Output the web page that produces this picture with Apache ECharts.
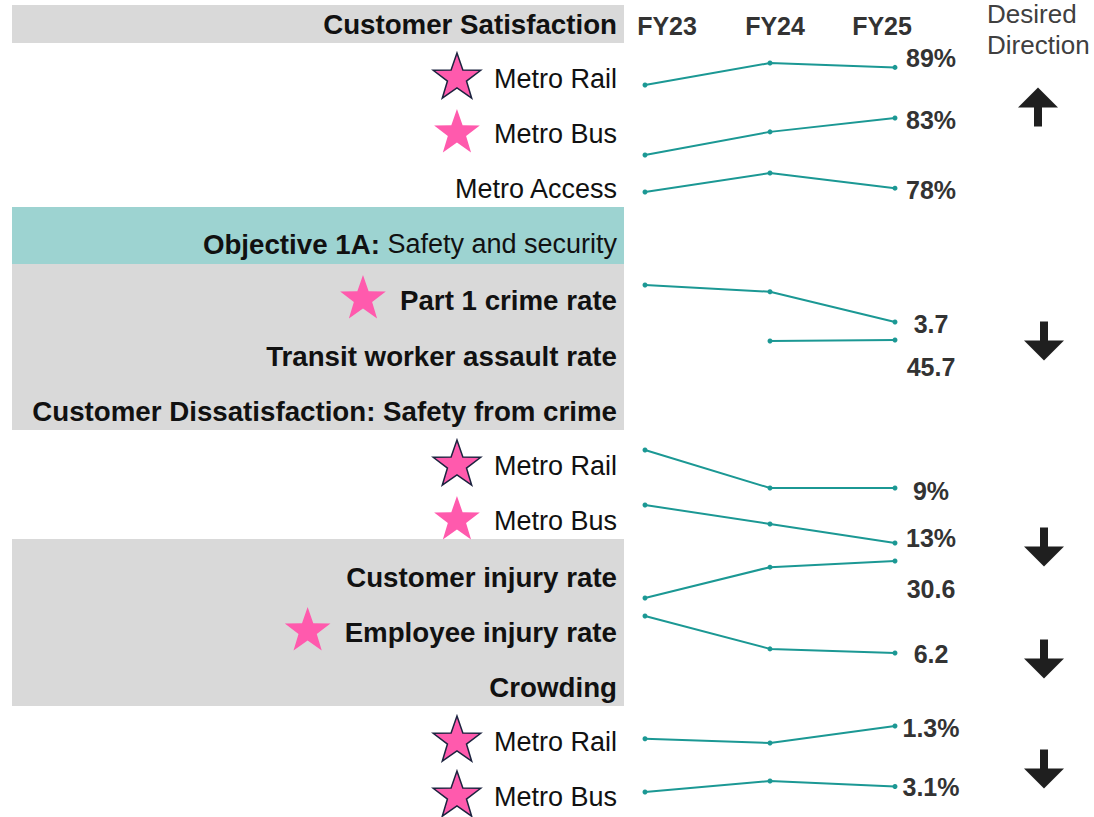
<!DOCTYPE html>
<html><head><meta charset="utf-8">
<script src="https://cdn.jsdelivr.net/npm/echarts@6/dist/echarts.min.js"></script>
<style>html,body{margin:0;padding:0;background:#fff;}#c{width:1094px;height:817px;}</style>
</head><body><div id="c"></div>
<script>
// ---------- DATA ----------
const years = ['FY23', 'FY24', 'FY25'];
const rowLabels = [
  'Customer Satisfaction', 'Metro Rail', 'Metro Bus', 'Metro Access',
  'Objective 1A:|Safety and security',
  'Part 1 crime rate', 'Transit worker assault rate',
  'Customer Dissatisfaction: Safety from crime', 'Metro Rail', 'Metro Bus',
  'Customer injury rate', 'Employee injury rate', 'Crowding', 'Metro Rail', 'Metro Bus'
];
const rowBold = [1, 0, 0, 0, 2, 1, 1, 1, 0, 0, 1, 1, 1, 0, 0];
const rowStar = ['', 'outline', 'plain', '', '', 'plain', '', '', 'outline', 'plain', '', 'plain', '', 'outline', 'outline'];

const csRail = [85, 90, 89];
const csBus = [75, 80, 83];
const csAccess = [77, 82, 78];
const part1Crime = [4.8, 4.6, 3.7];
const workerAssault = [null, 45.6, 45.7];
const dissatRail = [12, 9, 9];
const dissatBus = [17, 15, 13];
const customerInjury = [24.0, 29.5, 30.6];
const employeeInjury = [8.0, 6.4, 6.2];
const crowdRail = [1.0, 0.9, 1.3];
const crowdBus = [2.8, 3.4, 3.1];
const seriesList = [csRail, csBus, csAccess, part1Crime, workerAssault, dissatRail, dissatBus, customerInjury, employeeInjury, crowdRail, crowdBus];
const units = ['%', '%', '%', '', '', '%', '%', '', '', '%', '%'];
const desiredDirection = ['up', 'down', 'down', 'down', 'down'];
const directionTitle = ['Desired', 'Direction'];

// ---------- LAYOUT ----------
const FONT = "'Liberation Sans', Arial, sans-serif";
const REG = 27, BOLD = 27.7;
const rowY = [24, 79, 134, 189, 244, 300, 356, 411, 466, 521, 577, 632, 687, 742, 797];
const textRight = 617;
const bands = [
  { y: 5, h: 38, c: '#d9d9d9' },
  { y: 207, h: 57, c: '#9dd3d1' },
  { y: 264, h: 166, c: '#d9d9d9' },
  { y: 539, h: 167, c: '#d9d9d9' }
];
const sparkLeft = 645, sparkWidth = 250;
const sparkTop = [63, 118, 173, 285, 330, 450, 505, 561, 616, 726, 781];
const sparkH = [22, 37, 19, 37, 20, 38, 38, 37, 37, 17, 11];
const sparkRange = [null, null, null, null, [44.7, 46.7], null, null, null, null, null, null];
const labelDy = [-9, 2, 2, 2, 27, 3, -5, 28, 1, 2, 0];
const headerX = [667, 775, 882];
const arrowX = [1038, 1044, 1044, 1044, 1044];
const arrowY = [107, 341, 547, 659, 769];
const LINE = '#1b9894';
const PINK = '#ff5aad';

// ---------- BUILD ----------
const ctx = document.createElement('canvas').getContext('2d');
function textW(t, bold) { ctx.font = (bold ? 'bold ' + BOLD : REG) + 'px ' + FONT; return ctx.measureText(t).width; }

const graphic = [];
bands.forEach(b => graphic.push({ type: 'rect', shape: { x: 12, y: b.y, width: 612, height: b.h }, style: { fill: b.c }, z: 0 }));

function starPoints(cx, cy, R) {
  const pts = [];
  for (let k = 0; k < 10; k++) {
    const a = -Math.PI / 2 + k * Math.PI / 5;
    const r = k % 2 === 0 ? R : R * 0.4;
    pts.push([cx + r * Math.cos(a), cy + r * Math.sin(a)]);
  }
  return pts;
}

rowLabels.forEach((lab, i) => {
  let width;
  if (rowBold[i] === 2) {
    const parts = lab.split('|');
    graphic.push({
      type: 'text', x: textRight, y: rowY[i], z: 5,
      style: {
        text: '{b|' + parts[0] + '}{n|\u00a0' + parts[1] + '}', align: 'right', verticalAlign: 'middle',
        rich: {
          b: { fontFamily: FONT, fontSize: BOLD, fontWeight: 'bold', fill: '#111' },
          n: { fontFamily: FONT, fontSize: REG, fill: '#111' }
        }
      }
    });
    width = textW(parts[0], true) + textW(' ' + parts[1], false);
  } else {
    const bold = rowBold[i] === 1;
    graphic.push({
      type: 'text', x: textRight, y: rowY[i], z: 5,
      style: { text: lab, align: 'right', verticalAlign: 'middle', fontFamily: FONT, fontSize: bold ? BOLD : REG, fontWeight: bold ? 'bold' : 'normal', fill: '#111' }
    });
    width = textW(lab, bold);
  }
  if (rowStar[i]) {
    const outline = rowStar[i] === 'outline';
    const cx = textRight - width - 37;
    graphic.push({
      type: 'polygon', z: 5,
      shape: { points: starPoints(cx, rowY[i] - 1, outline ? 25 : 24) },
      style: { fill: PINK, stroke: outline ? '#1d2440' : null, lineWidth: outline ? 1.5 : 0 }
    });
  }
});

years.forEach((y, j) => graphic.push({
  type: 'text', x: headerX[j], y: 26, z: 5,
  style: { text: y, align: 'center', verticalAlign: 'middle', fontFamily: FONT, fontSize: 25, fontWeight: 'bold', fill: '#333' }
}));
directionTitle.forEach((t, j) => graphic.push({
  type: 'text', x: 987, y: 14 + j * 31, z: 5,
  style: { text: t, align: 'left', verticalAlign: 'middle', fontFamily: FONT, fontSize: 26, fill: '#404040' }
}));

desiredDirection.forEach((d, k) => {
  const cx = arrowX[k], cy = arrowY[k], s = d === 'up' ? 1 : -1;
  const pts = [[0, -19.5], [20, 0.5], [4, 0.5], [4, 19.5], [-4, 19.5], [-4, 0.5], [-20, 0.5]]
    .map(p => [cx + p[0], cy + s * p[1]]);
  graphic.push({ type: 'polygon', z: 5, shape: { points: pts }, style: { fill: '#1f1f1f' } });
});

const grids = [], xAxes = [], yAxes = [], series = [];
seriesList.forEach((vals, i) => {
  const nums = vals.filter(v => v != null);
  const rng = sparkRange[i] || [Math.min(...nums), Math.max(...nums)];
  grids.push({ left: sparkLeft, width: sparkWidth, top: sparkTop[i], height: sparkH[i], containLabel: false });
  xAxes.push({ type: 'category', gridIndex: i, data: years, boundaryGap: false, show: false });
  yAxes.push({ type: 'value', gridIndex: i, min: rng[0], max: rng[1], show: false, splitLine: { show: false } });
  series.push({
    type: 'line', xAxisIndex: i, yAxisIndex: i, symbol: 'circle', symbolSize: 5, silent: true,
    lineStyle: { color: LINE, width: 2 }, itemStyle: { color: LINE },
    data: vals.map((v, j) => j === vals.length - 1 ? {
      value: v,
      label: {
        show: true, position: 'inside', offset: [36, labelDy[i]], formatter: () => v + units[i],
        fontFamily: FONT, fontSize: 25, fontWeight: 'bold', color: '#333', textBorderWidth: 0,
        align: 'center', verticalAlign: 'middle'
      }
    } : v),
    animation: false
  });
});

const chart = echarts.init(document.getElementById('c'), null, { renderer: 'svg' });
chart.setOption({
  backgroundColor: '#ffffff',
  animation: false,
  grid: grids, xAxis: xAxes, yAxis: yAxes, series: series,
  graphic: graphic
});
</script>
</body></html>
